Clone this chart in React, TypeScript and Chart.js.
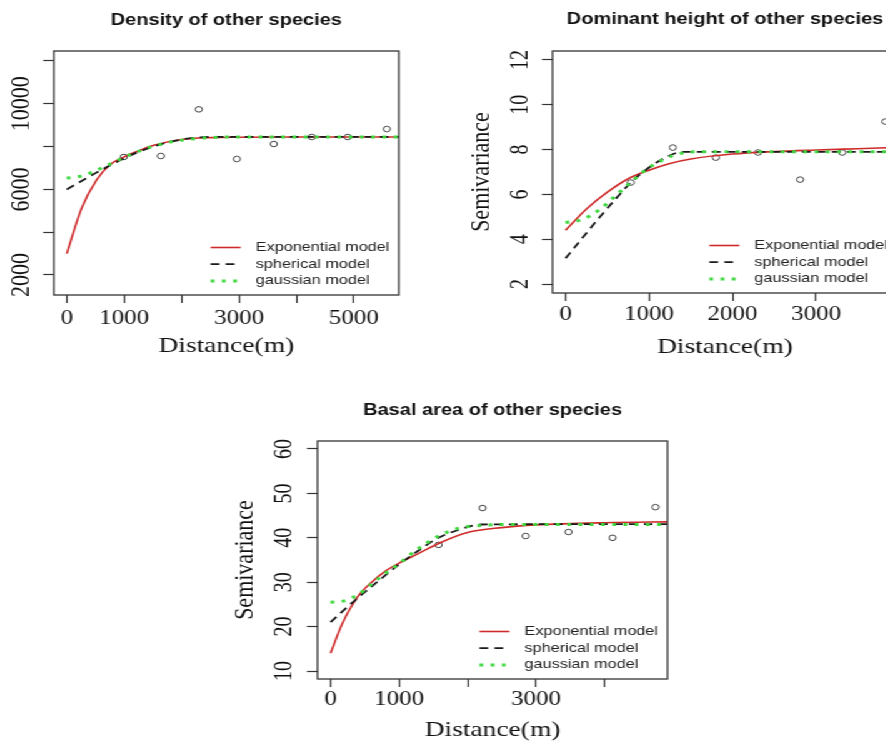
import React, { useEffect, useRef } from 'react';
import { Chart, registerables } from 'chart.js';

Chart.register(...registerables);

const SERIF = '"Liberation Serif", "Times New Roman", serif';
const SANS = '"Liberation Sans", Arial, sans-serif';

// ---------- shared text ----------
const modelLabels = ['Exponential model', 'spherical model', 'gaussian model'];
const xAxisTitle = 'Distance(m)';
const yAxisTitle = 'Semivariance';

// ---------- Density of other species ----------
const densityTitle = 'Density of other species';
const densityLagDist = [993, 1638, 2300, 2962, 3606, 4268, 4895, 5575];
const densityLagGamma = [7514, 7561, 9740, 7421, 8121, 8449, 8449, 8822];
const densityExpDist = [0, 260, 520, 750, 1000, 1250, 1500, 2000, 2500, 3000, 4000, 5000, 6000];
const densityExpGamma = [3000, 5130, 6440, 7150, 7520, 7800, 8050, 8330, 8420, 8440, 8450, 8450, 8450];
const densitySphDist = [0, 250, 500, 750, 1000, 1250, 1500, 1750, 2000, 2250, 2500, 6000];
const densitySphGamma = [6000, 6380, 6760, 7120, 7450, 7750, 8000, 8190, 8330, 8420, 8450, 8450];
const densityGauDist = [0, 250, 500, 750, 1000, 1250, 1500, 1750, 2000, 2500, 3000, 6000];
const densityGauGamma = [6530, 6620, 6870, 7180, 7500, 7780, 8010, 8180, 8300, 8420, 8450, 8450];
const densityXTicks = [0, 1000, 2000, 3000, 4000, 5000];
const densityXTickLabels = ['0', '1000', '', '3000', '', '5000'];
const densityYTicks = [2000, 4000, 6000, 8000, 10000, 12000];
const densityYTickLabels = ['2000', '', '6000', '', '10000', ''];

// ---------- Dominant height of other species ----------
const heightTitle = 'Dominant height of other species';
const heightLagDist = [780, 1285, 1800, 2305, 2809, 3313, 3830];
const heightLagGamma = [6.53, 8.09, 7.64, 7.87, 6.66, 7.87, 9.25];
const heightExpDist = [0, 250, 500, 750, 1000, 1250, 1500, 2000, 2500, 3000, 3500, 4000];
const heightExpGamma = [4.4, 5.35, 6.1, 6.7, 7.08, 7.38, 7.58, 7.8, 7.91, 7.98, 8.04, 8.1];
const heightSphDist = [0, 200, 400, 600, 800, 1000, 1200, 1400, 4000];
const heightSphGamma = [3.15, 4.05, 4.95, 5.8, 6.6, 7.2, 7.65, 7.9, 7.9];
const heightGauDist = [0, 200, 400, 600, 800, 1000, 1200, 1400, 1600, 2000, 4000];
const heightGauGamma = [4.75, 4.88, 5.3, 5.95, 6.6, 7.2, 7.6, 7.85, 7.9, 7.9, 7.9];
const heightXTicks = [0, 1000, 2000, 3000];
const heightXTickLabels = ['0', '1000', '2000', '3000'];
const heightYTicks = [2, 4, 6, 8, 10, 12];
const heightYTickLabels = ['2', '4', '6', '8', '10', '12'];

// ---------- Basal area of other species ----------
const basalTitle = 'Basal area of other species';
const basalLagDist = [1577, 2219, 2847, 3474, 4117, 4745];
const basalLagGamma = [38.4, 46.7, 40.4, 41.3, 40.0, 46.9];
const basalExpDist = [0, 175, 395, 600, 800, 1000, 1300, 1600, 2000, 2500, 3000, 4000, 5000];
const basalExpGamma = [14.0, 20.8, 26.7, 30.0, 32.5, 34.3, 36.6, 38.9, 41.2, 42.3, 42.9, 43.4, 43.6];
const basalSphDist = [0, 230, 400, 700, 1000, 1300, 1550, 1850, 2200, 5000];
const basalSphGamma = [21.0, 24.2, 26.5, 30.3, 34.0, 37.3, 39.8, 41.7, 43.0, 43.1];
const basalGauDist = [0, 200, 400, 600, 800, 1000, 1250, 1550, 1880, 2200, 2600, 5000];
const basalGauGamma = [25.5, 25.8, 27.2, 29.6, 32.0, 34.2, 37.2, 40.2, 42.2, 42.8, 43.0, 43.0];
const basalXTicks = [0, 1000, 2000, 3000, 4000];
const basalXTickLabels = ['0', '1000', '', '3000', ''];
const basalYTicks = [10, 20, 30, 40, 50, 60];
const basalYTickLabels = ['10', '20', '30', '40', '50', '60'];

// ---------- styles ----------
const RED = '#cf2a2a';
const BLACK = '#1a1a1a';
const GREEN = '#3fd83f';
const AXIS = '#333333';
const TEXT = '#111111';

const zip = (xs: number[], ys: number[]) => xs.map((x, i) => ({ x, y: ys[i] }));

type PanelSpec = {
  title: string;
  yTitle: string | null;
  left: number;
  top: number;
  width: number;
  height: number;
  yAxisWidth: number;
  rightWidth: number;
  xAxisHeight: number;
  titlePadTop: number;
  titlePadBottom: number;
  xMin: number;
  xMax: number;
  yMin: number;
  yMax: number;
  xTicks: number[];
  xLabels: string[];
  yTicks: number[];
  yLabels: string[];
  yTickSize: number;
  yTickOffset: number;
  xTickPad: number;
  xTitlePad: number;
  yTitlePad: number;
  lagDist: number[];
  lagGamma: number[];
  expDist: number[];
  expGamma: number[];
  sphDist: number[];
  sphGamma: number[];
  gauDist: number[];
  gauGamma: number[];
};

function measureWidest(labels: string[], size: number) {
  const c = document.createElement('canvas').getContext('2d');
  if (!c) return 0;
  c.font = `normal ${size}px ${SERIF}`;
  return Math.max(...labels.map((l) => c.measureText(l).width));
}

const boxAndLegend = {
  id: 'boxAndLegend',
  afterDatasetsDraw(chart: any) {
    const { ctx, chartArea: a } = chart;
    ctx.save();
    ctx.setLineDash([]);
    ctx.strokeStyle = AXIS;
    ctx.lineWidth = 1.3;
    ctx.strokeRect(a.left, a.top, a.right - a.left, a.bottom - a.top);
    const items = chart.data.datasets.filter((d: any) => d.showLine);
    const textX = a.right - 114.5;
    ctx.font = `13px ${SANS}`;
    ctx.textBaseline = 'middle';
    ctx.textAlign = 'left';
    items.forEach((d: any, i: number) => {
      const y = a.bottom - 47.5 + i * 16.7;
      ctx.beginPath();
      ctx.setLineDash(d.borderDash || []);
      ctx.strokeStyle = d.borderColor;
      ctx.lineWidth = d.borderWidth;
      ctx.moveTo(textX - 36, y);
      ctx.lineTo(textX - 12, y);
      ctx.stroke();
      ctx.setLineDash([]);
      ctx.fillStyle = '#222';
      ctx.fillText(d.label, textX, y);
    });
    ctx.restore();
  },
};

function buildConfig(s: PanelSpec): any {
  const yTickLen = 8.5;
  const xTickLen = 8;
  const widest = measureWidest(s.yLabels, s.yTickSize);
  const yTickPad = s.yTickOffset - yTickLen - widest / 2;
  return {
    type: 'scatter',
    data: {
      datasets: [
        {
          label: modelLabels[0],
          data: zip(s.expDist, s.expGamma),
          showLine: true,
          borderColor: RED,
          borderWidth: 1.6,
          pointRadius: 0,
          cubicInterpolationMode: 'monotone',
          clip: 0,
          order: 3,
        },
        {
          label: modelLabels[1],
          data: zip(s.sphDist, s.sphGamma),
          showLine: true,
          borderColor: BLACK,
          borderWidth: 1.8,
          borderDash: [7, 5],
          pointRadius: 0,
          cubicInterpolationMode: 'monotone',
          clip: 0,
          order: 2,
        },
        {
          label: modelLabels[2],
          data: zip(s.gauDist, s.gauGamma),
          showLine: true,
          borderColor: GREEN,
          borderWidth: 3,
          borderDash: [3, 6],
          pointRadius: 0,
          cubicInterpolationMode: 'monotone',
          clip: 0,
          order: 1,
        },
        {
          label: 'empirical semivariance',
          data: zip(s.lagDist, s.lagGamma),
          showLine: false,
          pointRadius: 2.8,
          pointBorderWidth: 1,
          pointBorderColor: '#444',
          pointBackgroundColor: 'rgba(0,0,0,0)',
          order: 4,
        },
      ],
    },
    options: {
      responsive: false,
      animation: false,
      events: [],
      layout: { padding: 0, autoPadding: false },
      plugins: {
        legend: { display: false },
        tooltip: { enabled: false },
        title: {
          display: true,
          text: s.title,
          color: TEXT,
          font: { family: SANS, size: 16, weight: 'bold', lineHeight: 1 },
          padding: { top: s.titlePadTop, bottom: s.titlePadBottom },
        },
      },
      scales: {
        x: {
          type: 'linear',
          position: 'bottom',
          min: s.xMin,
          max: s.xMax,
          afterBuildTicks: (sc: any) => {
            sc.ticks = s.xTicks.map((v) => ({ value: v }));
          },
          afterFit: (sc: any) => {
            sc.height = s.xAxisHeight;
          },
          ticks: {
            autoSkip: false,
            minRotation: 0,
            maxRotation: 0,
            padding: s.xTickPad,
            color: TEXT,
            font: { family: SERIF, size: 20, lineHeight: 1 },
            callback: (_v: any, i: number) => s.xLabels[i],
          },
          grid: {
            display: true,
            drawOnChartArea: false,
            drawTicks: true,
            tickLength: xTickLen,
            tickColor: AXIS,
            tickWidth: 1.2,
          },
          border: { display: false },
          title: {
            display: true,
            text: xAxisTitle,
            color: TEXT,
            font: { family: SERIF, size: 22, lineHeight: 1 },
            padding: { top: 0, bottom: s.xTitlePad },
          },
        },
        y: {
          type: 'linear',
          position: 'left',
          min: s.yMin,
          max: s.yMax,
          afterBuildTicks: (sc: any) => {
            sc.ticks = s.yTicks.map((v) => ({ value: v }));
          },
          afterFit: (sc: any) => {
            sc.width = s.yAxisWidth;
          },
          ticks: {
            autoSkip: false,
            minRotation: 90,
            maxRotation: 90,
            crossAlign: 'center',
            padding: yTickPad,
            color: TEXT,
            font: { family: SERIF, size: s.yTickSize, lineHeight: 1 },
            callback: (_v: any, i: number) => s.yLabels[i],
          },
          grid: {
            display: true,
            drawOnChartArea: false,
            drawTicks: true,
            tickLength: yTickLen,
            tickColor: AXIS,
            tickWidth: 1.2,
          },
          border: { display: false },
          title: s.yTitle
            ? {
                display: true,
                text: s.yTitle,
                color: TEXT,
                font: { family: SERIF, size: 22, lineHeight: 1 },
                padding: { top: s.yTitlePad, bottom: 0 },
              }
            : { display: false },
        },
        yRight: {
          type: 'linear',
          position: 'right',
          display: true,
          grid: { display: false, drawTicks: false },
          ticks: { display: false },
          border: { display: false },
          afterFit: (sc: any) => {
            sc.width = s.rightWidth;
          },
        },
      },
    },
    plugins: [boxAndLegend],
  };
}

const panels: PanelSpec[] = [
  {
    title: densityTitle,
    yTitle: null,
    left: 0,
    top: 0,
    width: 362,
    height: 370,
    yAxisWidth: 43,
    rightWidth: 43,
    xAxisHeight: 75,
    titlePadTop: 12.5,
    titlePadBottom: 22.5,
    xMin: -226,
    xMax: 5784,
    yMin: 1065,
    yMax: 12467,
    xTicks: densityXTicks,
    xLabels: densityXTickLabels,
    yTicks: densityYTicks,
    yLabels: densityYTickLabels,
    yTickSize: 22,
    yTickOffset: 25.6,
    xTickPad: 6,
    xTitlePad: 13,
    yTitlePad: 0,
    lagDist: densityLagDist,
    lagGamma: densityLagGamma,
    expDist: densityExpDist,
    expGamma: densityExpGamma,
    sphDist: densitySphDist,
    sphGamma: densitySphGamma,
    gauDist: densityGauDist,
    gauGamma: densityGauGamma,
  },
  {
    title: heightTitle,
    yTitle: yAxisTitle,
    left: 370,
    top: 0,
    width: 420,
    height: 370,
    yAxisWidth: 72,
    rightWidth: 72,
    xAxisHeight: 77,
    titlePadTop: 11.5,
    titlePadBottom: 23.5,
    xMin: -156,
    xMax: 3974,
    yMin: 1.6,
    yMax: 12.4,
    xTicks: heightXTicks,
    xLabels: heightXTickLabels,
    yTicks: heightYTicks,
    yLabels: heightYTickLabels,
    yTickSize: 20,
    yTickOffset: 25.6,
    xTickPad: 4,
    xTitlePad: 12,
    yTitlePad: 4.6,
    lagDist: heightLagDist,
    lagGamma: heightLagGamma,
    expDist: heightExpDist,
    expGamma: heightExpGamma,
    sphDist: heightSphDist,
    sphGamma: heightSphGamma,
    gauDist: heightGauDist,
    gauGamma: heightGauGamma,
  },
  {
    title: basalTitle,
    yTitle: yAxisTitle,
    left: 180,
    top: 380,
    width: 428,
    height: 380,
    yAxisWidth: 74,
    rightWidth: 74,
    xAxisHeight: 81,
    titlePadTop: 22.4,
    titlePadBottom: 22.6,
    xMin: -190,
    xMax: 4920,
    yMin: 8.2,
    yMax: 61.8,
    xTicks: basalXTicks,
    xLabels: basalXTickLabels,
    yTicks: basalYTicks,
    yLabels: basalYTickLabels,
    yTickSize: 20,
    yTickOffset: 26,
    xTickPad: 3,
    xTitlePad: 19,
    yTitlePad: 5,
    lagDist: basalLagDist,
    lagGamma: basalLagGamma,
    expDist: basalExpDist,
    expGamma: basalExpGamma,
    sphDist: basalSphDist,
    sphGamma: basalSphGamma,
    gauDist: basalGauDist,
    gauGamma: basalGauGamma,
  },
];

function Panel({ spec }: { spec: PanelSpec }) {
  const ref = useRef<HTMLCanvasElement | null>(null);
  useEffect(() => {
    if (!ref.current) return;
    const chart = new Chart(ref.current, buildConfig(spec));
    return () => chart.destroy();
  }, [spec]);
  return (
    <canvas
      ref={ref}
      width={spec.width}
      height={spec.height}
      style={{
        position: 'absolute',
        left: spec.left,
        top: spec.top,
        width: spec.width,
        height: spec.height,
      }}
    />
  );
}

export default function App() {
  return (
    <div
      style={{
        position: 'fixed',
        left: 0,
        top: 0,
        width: 886,
        height: 744,
        overflow: 'hidden',
        background: '#ffffff',
      }}
    >
      <div
        style={{
          position: 'absolute',
          left: 0,
          top: 0,
          width: 708.8,
          height: 744,
          transform: 'scaleX(1.25)',
          transformOrigin: '0 0',
        }}
      >
        {panels.map((p) => (
          <Panel key={p.title} spec={p} />
        ))}
      </div>
    </div>
  );
}
